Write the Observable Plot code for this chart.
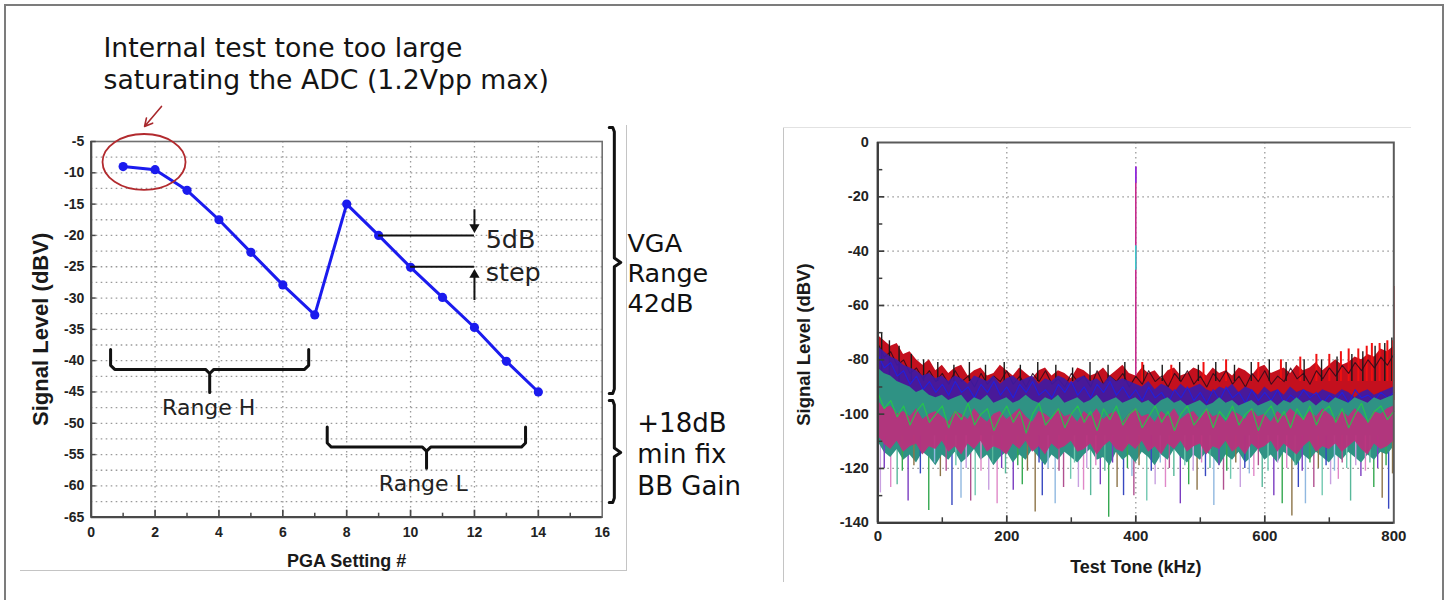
<!DOCTYPE html>
<html>
<head>
<meta charset="utf-8">
<script src="https://cdn.jsdelivr.net/npm/d3@7"></script>
<script src="https://cdn.jsdelivr.net/npm/@observablehq/plot@0.6"></script>
<style>
  body { margin: 0; background: #fff; }
  #wrap { position: relative; width: 1450px; height: 600px; overflow: hidden; background: #fff; }
  #wrap svg { position: absolute; top: 0; overflow: visible; background: transparent; }
  .ln { position: absolute; background: #c4c4c4; }
  #title { position: absolute; left: 103.5px; top: 32px; font-family: "DejaVu Sans", Verdana, sans-serif;
           font-size: 26.7px; line-height: 32px; color: #141414; white-space: nowrap; }
</style>
</head>
<body>
<div id="wrap">
  <div style="position:absolute;left:4px;top:4px;width:1440px;height:640px;border:2px solid #7c7c7c;box-sizing:border-box"></div>
  <div class="ln" style="left:20px;top:570px;width:607px;height:1px"></div>
  <div class="ln" style="left:626px;top:125px;width:1px;height:446px"></div>
  <div class="ln" style="left:783px;top:127px;width:1px;height:455px"></div>
  <div class="ln" style="left:783px;top:127px;width:628px;height:1px;background:#e2e2e2"></div>
  <div id="title">Internal test tone too large<br>saturating the ADC (1.2Vpp max)</div>
</div>
<script>
// ---------------- LEFT CHART DATA ----------------
const pgaSetting  = [1, 2, 3, 4, 5, 6, 7, 8, 9, 10, 11, 12, 13, 14];
const signalLevel = [-9, -9.5, -12.8, -17.5, -22.7, -27.9, -32.7, -15, -20, -25.1, -29.9, -34.7, -40.1, -45];
const pgaTicks    = [0, 2, 4, 6, 8, 10, 12, 14, 16];
const pgaGrid     = [2, 4, 6, 8, 10, 12, 14];
const pgaMinor    = [1, 3, 5, 7, 9, 11, 13, 15];
const levelTicks  = [-5, -10, -15, -20, -25, -30, -35, -40, -45, -50, -55, -60, -65];
const levelGrid   = [-7.5, -10, -12.5, -15, -17.5, -20, -22.5, -25, -27.5, -30, -32.5, -35, -37.5, -40,
                     -42.5, -45, -47.5, -50, -52.5, -55, -57.5, -60, -62.5];

// ---------------- RIGHT CHART DATA ----------------
const toneTicks   = [0, 200, 400, 600, 800];
const toneGrid    = [200, 400, 600];
const toneMinor   = [100, 300, 500, 700];
const dbvTicks    = [0, -20, -40, -60, -80, -100, -120, -140];
const dbvGrid     = [-20, -40, -60, -80, -100, -120];
const dbvMinor    = [-10, -30, -50, -70, -90, -110, -130];

const noiseFreq = [0,10,20,30,40,50,60,70,80,90,100,110,120,130,140,150,160,170,180,190,200,210,220,230,240,250,
  260,270,280,290,300,310,320,330,340,350,360,370,380,390,400,410,420,430,440,450,460,470,480,490,500,510,520,530,
  540,550,560,570,580,590,600,610,620,630,640,650,660,670,680,690,700,710,720,730,740,750,760,770,780,790,800];
const redTop = [-71,-73,-75,-74,-78,-77,-80,-82,-80,-84, -82,-85,-83,-82,-86,-84,-83,-86,-85,-82,
  -84,-86,-83,-85,-87,-84,-83,-86,-84,-85, -87,-83,-84,-86,-85,-83,-86,-84,-82,-85,
  -86,-83,-85,-84,-87,-84,-83,-86,-85,-83, -84,-86,-83,-85,-84,-86,-83,-84,-86,-83,
  -82,-85,-84,-83,-85,-82,-84,-83,-81,-84, -82,-80,-82,-81,-79,-80,-78,-79,-76,-77, -75];
const darkTrace = [-74,-79,-77,-82,-80,-85,-83,-87,-84,-88, -85,-89,-84,-88,-86,-90,-85,-89,-86,-88,
  -84,-89,-86,-90,-85,-88,-84,-89,-87,-90, -85,-88,-86,-90,-84,-89,-86,-88,-85,-90,
  -86,-89,-84,-88,-86,-90,-85,-88,-84,-89, -86,-90,-85,-88,-84,-89,-86,-90,-85,-88,
  -84,-89,-86,-88,-83,-87,-85,-89,-84,-87, -83,-86,-82,-85,-81,-84,-80,-83,-79,-82, -78];
const blueTop = [-75,-77,-79,-80,-82,-83,-84,-86,-85,-87, -86,-88,-86,-87,-89,-86,-87,-88,-86,-89,
  -87,-86,-88,-87,-86,-89,-87,-88,-86,-87, -89,-87,-86,-88,-87,-89,-86,-88,-87,-88,
  -89,-90,-88,-91,-89,-90,-92,-89,-91,-90, -89,-91,-92,-90,-91,-89,-92,-90,-91,-93,
  -90,-92,-91,-93,-90,-92,-91,-92,-93,-91, -92,-93,-91,-92,-94,-92,-91,-93,-92,-91, -90];
const blueTrace = [-78,-83,-81,-86,-84,-89,-86,-91,-88,-92, -89,-93,-88,-92,-90,-94,-89,-92,-88,-93,
  -90,-94,-89,-92,-88,-93,-91,-94,-89,-92, -88,-93,-90,-94,-89,-92,-88,-93,-90,-94,
  -91,-95,-90,-94,-92,-96,-91,-94,-90,-95, -92,-96,-91,-95,-90,-94,-92,-96,-91,-95,
  -92,-95,-91,-96,-93,-95,-91,-94,-92,-96, -93,-95,-92,-96,-91,-94,-93,-95,-92,-94, -92];
const tealTop = [-83,-85,-86,-88,-89,-90,-92,-91,-93,-94, -93,-95,-94,-93,-96,-94,-95,-93,-96,-95,
  -94,-96,-95,-93,-95,-96,-94,-95,-93,-96, -95,-94,-96,-95,-93,-96,-95,-94,-96,-95,
  -94,-96,-95,-97,-95,-94,-96,-95,-97,-96, -95,-97,-96,-94,-96,-95,-97,-96,-95,-97,
  -96,-95,-97,-95,-96,-94,-96,-95,-97,-95, -96,-94,-95,-96,-94,-95,-96,-94,-95,-94, -93];
const greenTrace = [-92,-98,-95,-101,-97,-104,-99,-96,-103,-100, -97,-105,-99,-102,-96,-104,-100,-98,-106,-101,
  -97,-103,-99,-107,-100,-96,-104,-101,-98,-105, -100,-97,-103,-99,-106,-98,-102,-97,-104,-100,
  -98,-105,-101,-97,-103,-99,-106,-100,-97,-104, -101,-98,-105,-99,-102,-97,-104,-100,-98,-106,
  -100,-97,-103,-99,-105,-98,-102,-97,-104,-99, -97,-103,-98,-105,-100,-96,-103,-99,-97,-102, -99];
const bandBottom = [-110,-114,-116,-113,-117,-115,-118,-114,-116,-119, -115,-117,-114,-118,-116,-113,-117,-115,-119,-116,
  -114,-118,-115,-117,-113,-116,-119,-115,-117,-114, -116,-118,-115,-113,-117,-116,-119,-114,-117,-115,
  -118,-114,-116,-119,-115,-117,-113,-116,-118,-115, -117,-114,-116,-119,-115,-117,-114,-118,-116,-113,
  -117,-115,-118,-114,-116,-119,-115,-117,-114,-116, -118,-115,-117,-114,-116,-118,-115,-117,-114,-115, -112];
const magentaTop = [-95,-98,-97,-100,-99,-101,-98,-102,-100,-99, -101,-103,-99,-100,-102,-98,-101,-103,-100,-99,
  -102,-100,-98,-101,-103,-99,-100,-102,-98,-101, -100,-103,-99,-101,-98,-102,-100,-99,-103,-100,
  -98,-101,-100,-103,-99,-101,-98,-102,-100,-99, -102,-98,-101,-100,-103,-99,-100,-102,-98,-101,
  -100,-103,-99,-101,-98,-100,-102,-99,-101,-98, -100,-102,-99,-101,-98,-100,-103,-99,-100,-98, -97];
const magentaBottom = [-108,-111,-113,-110,-114,-112,-111,-115,-112,-113, -110,-114,-112,-115,-111,-113,-110,-114,-112,-113,
  -115,-111,-113,-110,-114,-112,-115,-111,-113,-112, -110,-114,-113,-111,-115,-112,-110,-113,-114,-111,
  -113,-110,-114,-112,-115,-111,-113,-110,-114,-112, -111,-115,-112,-113,-110,-114,-112,-115,-111,-113,
  -112,-110,-114,-111,-113,-115,-112,-110,-114,-112, -113,-111,-114,-112,-110,-113,-115,-111,-113,-112, -110];

const deepSpikeFreq  = [4,20,30,47,79,97,115,129,144,151,172,185,198,210,224,244,255,275,288,299,311,319,330,345,358,371,
  381,394,397,417,430,446,459,469,482,495,508,521,536,547,562,583,596,614,627,642,652,663,676,689,702,714,733,749,769,782,792];
const deepSpikeLevel = [-129,-127,-126,-132,-135.5,-123,-133.6,-131,-132,-130,-128,-133,-122,-128,-126,-136,-130,-133,-127,
  -124,-127,-128,-130,-126,-138,-127,-130,-123,-130,-132,-126,-127,-123,-133,-126,-128,-123,-133.6,-128,-124,-127,-123,
  -127,-130,-133,-137.5,-127,-133,-127,-130,-126,-124,-132,-123,-127,-131,-135];
const shallowSpikeFreq  = [10,38,56,66,88,106,121,137,160,178,192,217,232,250,264,281,305,324,338,352,364,387,405,424,438,
  452,476,489,502,515,529,541,555,569,576,590,605,620,634,647,658,670,683,695,708,720,727,741,756,763,775,788,798];
const shallowSpikeLevel = [-120,-121,-119,-122,-118,-121,-119,-120,-121,-118,-120,-119,-121,-118,-120,-121,-118,-120,-119,
  -121,-118,-120,-119,-121,-118,-120,-119,-121,-118,-120,-119,-121,-118,-120,-122,-119,-121,-118,-120,-119,-121,-118,
  -120,-119,-121,-118,-120,-119,-121,-118,-120,-119,-122];
const topSpikeFreq  = [6,18,33,52,71,93,118,142,167,196,221,248,276,302,329,357,383,412,441,468,497,524,553,579,607,633,
  661,688,712,735,752,771,786,797];
const topSpikeLevel = [-70,-73,-75,-78,-80,-81,-82,-81,-82,-81,-82,-81,-82,-83,-81,-82,-81,-82,-82,-81,-82,-81,-82,-81,
  -80,-81,-80,-80,-79,-78,-77,-75,-74,-72];
const redSpikeFreq  = [410,455,505,540,590,625,655,680,700,718,730,745,758,766,778,790,799];
const redSpikeLevel = [-81,-82,-81,-80,-81,-80,-79,-78,-78,-77,-76,-76,-75,-74,-74,-73,-73];

const toneFreq = 400, toneLevel = -9, edgeFreq = 800, edgeLevel = -53;

// ---------------- STYLE ----------------
const tickFont = "'Liberation Sans', Arial, sans-serif";
const noteFont = "'DejaVu Sans', Verdana, sans-serif";
const gridStyle = {stroke: "#9a9a9a", strokeOpacity: 1, strokeWidth: 1.3, strokeDasharray: "1.6,3.4"};
const spikePalette = ["#c8a0e0", "#e088c8", "#58b89a", "#7a3cc0", "#34a850", "#8c7448", "#3848c0", "#90b8e0", "#b05090", "#70c8b0"];

// ---------------- helpers ----------------
function ellipseMark(cx, cy, rx, ry, style) {
  return (index, scales, values, dimensions, context) => {
    const el = context.document.createElementNS("http://www.w3.org/2000/svg", "ellipse");
    const x0 = scales.x(cx), y0 = scales.y(cy);
    el.setAttribute("cx", x0);
    el.setAttribute("cy", y0);
    el.setAttribute("rx", Math.abs(scales.x(cx + rx) - x0));
    el.setAttribute("ry", Math.abs(scales.y(cy + ry) - y0));
    el.setAttribute("fill", "none");
    el.setAttribute("stroke", style.stroke);
    el.setAttribute("stroke-width", style.strokeWidth);
    return el;
  };
}
function hBrace(x0, x1, xm, yEnd, yBar, yTip) {
  const dx = 0.13, d = 0.65;
  return [[x0, yEnd], [x0, yBar + d], [x0 + dx, yBar], [xm - dx, yBar], [xm, yBar - d], [xm, yTip],
          [xm, yBar - d], [xm + dx, yBar], [x1 - dx, yBar], [x1, yBar + d], [x1, yEnd]];
}
function vBrace(xv, xh, xt, yT, yM, yB) {
  const d = 0.7;
  return [[xh, yT], [xv - 0.05, yT], [xv, yT - d], [xv, yM + d], [xt, yM], [xv, yM - d], [xv, yB + d], [xv - 0.05, yB], [xh, yB]];
}

// ---------------- LEFT PLOT ----------------
const L = {w: 740, h: 600, ml: 90.7, mt: 141, mr: 138.3, mb: 83.3};
const lpW = L.w - L.ml - L.mr, lpH = L.h - L.mt - L.mb;
const pts = pgaSetting.map((x, i) => ({x, y: signalLevel[i]}));
const lineBlue = "#1b1bee";

const left = Plot.plot({
  width: L.w, height: L.h, marginLeft: L.ml, marginTop: L.mt, marginRight: L.mr, marginBottom: L.mb,
  x: {domain: [0, 16], label: null}, y: {domain: [-65, -5], label: null},
  marks: [
    Plot.gridY({ticks: levelGrid, ...gridStyle}),
    Plot.gridX({ticks: pgaGrid, ...gridStyle}),
    Plot.frame({stroke: "#707070", strokeWidth: 1.6}),
    Plot.ruleX([0], {stroke: "#4a4a4a", strokeWidth: 2.2}),
    Plot.ruleY([-65], {stroke: "#4a4a4a", strokeWidth: 2.2}),
    Plot.ruleX(pgaGrid, {x: d => d, insetTop: lpH - 7, stroke: "#4a4a4a", strokeWidth: 1.7}),
    Plot.ruleX(pgaMinor, {x: d => d, insetTop: lpH - 4, stroke: "#4a4a4a", strokeWidth: 1.5}),
    Plot.ruleY(levelTicks, {y: d => d, insetRight: lpW - 5, stroke: "#4a4a4a", strokeWidth: 1.5}),
    Plot.axisX({ticks: pgaTicks, tickSize: 0, tickPadding: 10, tickFormat: d => String(d), fontSize: 14,
                fontWeight: "bold", fontFamily: tickFont, fill: "#222", label: null}),
    Plot.axisY({ticks: levelTicks, tickSize: 0, tickPadding: 7, tickFormat: d => String(d), fontSize: 14,
                fontWeight: "bold", fontFamily: tickFont, fill: "#222", label: null}),
    Plot.text(["PGA Setting #"], {frameAnchor: "bottom", lineAnchor: "middle", dy: 44.5, fontSize: 18,
                fontWeight: "bold", fontFamily: tickFont, fill: "#1a1a1a"}),
    Plot.text(["Signal Level (dBV)"], {frameAnchor: "left", textAnchor: "middle", lineAnchor: "middle", dx: -50.7,
                rotate: -90, fontSize: 22, fontWeight: "bold", fontFamily: tickFont, fill: "#1a1a1a"}),
    // data
    Plot.line(pts, {x: "x", y: "y", stroke: lineBlue, strokeWidth: 3}),
    Plot.dot(pts, {x: "x", y: "y", r: 4.6, fill: lineBlue, stroke: "none"}),
    // annotations
    ellipseMark(1.67, -8.35, 1.30, 4.47, {stroke: "#b22a2e", strokeWidth: 1.8}),
    Plot.arrow([{x1: 2.2, y1: 0.6, x2: 1.67, y2: -2.6}], {x1: "x1", y1: "y1", x2: "x2", y2: "y2",
                stroke: "#a8282c", strokeWidth: 1.6, headLength: 13, headAngle: 55}),
    Plot.line(hBrace(0.607, 6.81, 3.71, -38.2, -41.4, -45.1), {x: d => d[0], y: d => d[1], stroke: "#111",
                strokeWidth: 3, strokeLinejoin: "round"}),
    Plot.line(hBrace(7.39, 13.6, 10.5, -50.6, -53.8, -57.2), {x: d => d[0], y: d => d[1], stroke: "#111",
                strokeWidth: 3, strokeLinejoin: "round"}),
    Plot.line(vBrace(16.38, 16.22, 16.58, -2.76, -24.32, -45.24), {x: d => d[0], y: d => d[1], stroke: "#111",
                strokeWidth: 3, strokeLinejoin: "round"}),
    Plot.line(vBrace(16.38, 16.22, 16.58, -46.36, -54.66, -62.65), {x: d => d[0], y: d => d[1], stroke: "#111",
                strokeWidth: 3, strokeLinejoin: "round"}),
    Plot.ruleY([-20], {x1: 9, x2: 12, stroke: "#111", strokeWidth: 2}),
    Plot.ruleY([-25], {x1: 10, x2: 12, stroke: "#111", strokeWidth: 2}),
    Plot.ruleX([12], {y1: -15.9, y2: -18.7, stroke: "#111", strokeWidth: 2}),
    Plot.ruleX([12], {y1: -30.4, y2: -26.3, stroke: "#111", strokeWidth: 2}),
    Plot.dot([{x: 12, y: -18.67}], {x: "x", y: "y", symbol: "triangle", r: 3.8, fill: "#111", rotate: 180}),
    Plot.dot([{x: 12, y: -26.3}], {x: "x", y: "y", symbol: "triangle", r: 3.8, fill: "#111"}),
    Plot.text(["5dB\nstep"], {x: () => 12.35, y: () => -23.0, textAnchor: "start", lineAnchor: "middle",
                lineHeight: 1.28, fontSize: 25.5, fontFamily: noteFont, fill: "#222"}),
    Plot.text(["Range H"], {x: () => 3.68, y: () => -47.6, lineAnchor: "middle", fontSize: 22,
                fontFamily: noteFont, fill: "#222"}),
    Plot.text(["Range L"], {x: () => 10.40, y: () => -59.7, lineAnchor: "middle", fontSize: 22,
                fontFamily: noteFont, fill: "#222"}),
    Plot.text(["VGA\nRange\n42dB"], {x: () => 16.79, y: () => -25.9, textAnchor: "start", lineAnchor: "middle",
                lineHeight: 1.18, fontSize: 25.5, fontFamily: noteFont, fill: "#111"}),
    Plot.text(["+18dB\nmin fix\nBB Gain"], {x: () => 17.10, y: () => -54.8, textAnchor: "start", lineAnchor: "middle",
                lineHeight: 1.2, fontSize: 26, fontFamily: noteFont, fill: "#111"})
  ]
});
left.style.left = "0px";
document.getElementById("wrap").appendChild(left);

// ---------------- RIGHT PLOT ----------------
const R = {w: 710, h: 600, ml: 137.3, mt: 142, mr: 56.7, mb: 77.7};
const rpW = R.w - R.ml - R.mr, rpH = R.h - R.mt - R.mb;
const floorLevel = -100;
const rows = noiseFreq.map((f, i) => ({
  f, red: redTop[i], dark: darkTrace[i], blue: blueTop[i], blueT: blueTrace[i], teal: tealTop[i],
  green: greenTrace[i], bottom: bandBottom[i], magTop: magentaTop[i], magBottom: magentaBottom[i]
}));
const deepRows = deepSpikeFreq.map((f, i) => ({f, v: deepSpikeLevel[i]}));
const shallowRows = shallowSpikeFreq.map((f, i) => ({f, v: shallowSpikeLevel[i]}));
const topRows = topSpikeFreq.map((f, i) => ({f, v: topSpikeLevel[i]}));
const redSpRows = redSpikeFreq.map((f, i) => ({f, v: redSpikeLevel[i]}));

const right = Plot.plot({
  width: R.w, height: R.h, marginLeft: R.ml, marginTop: R.mt, marginRight: R.mr, marginBottom: R.mb,
  x: {domain: [0, 800], label: null}, y: {domain: [-140, 0], label: null},
  marks: [
    Plot.gridY({ticks: dbvGrid, ...gridStyle}),
    Plot.gridX({ticks: toneGrid, ...gridStyle}),
    // noise floor traces (bands)
    Plot.ruleX(deepRows, {x: "f", y1: -110, y2: "v", stroke: (d, i) => spikePalette[i % spikePalette.length], strokeWidth: 1.4}),
    Plot.areaY(rows, {x: "f", y1: floorLevel, y2: "red", fill: "#c4101e"}),
    Plot.ruleX(topRows, {x: "f", y1: -88, y2: "v", stroke: "#1a1a1a", strokeWidth: 1.4}),
    Plot.ruleX(redSpRows, {x: "f", y1: -88, y2: "v", stroke: "#f01010", strokeWidth: 2}),
    Plot.line(rows, {x: "f", y: "dark", stroke: "#2a0a1a", strokeWidth: 1.1, strokeOpacity: 0.85}),
    Plot.areaY(rows, {x: "f", y1: floorLevel, y2: "blue", fill: "#3e1aa4", fillOpacity: 0.92}),
    Plot.line(rows, {x: "f", y: "blueT", stroke: "#2020e0", strokeWidth: 1.2, strokeOpacity: 0.9}),
    Plot.areaY(rows, {x: "f", y1: "bottom", y2: "teal", fill: "#2f9284"}),
    Plot.ruleX(shallowRows, {x: "f", y1: -108, y2: "v", stroke: (d, i) => spikePalette[(i + 3) % spikePalette.length], strokeWidth: 1.4}),
    Plot.areaY(rows, {x: "f", y1: "magBottom", y2: "magTop", fill: "#b8327c", fillOpacity: 0.95}),
    Plot.line(rows, {x: "f", y: "green", stroke: "#25c84a", strokeWidth: 1.2, strokeOpacity: 0.9}),
    // test tone
    Plot.ruleX([toneFreq], {y1: -86, y2: toneLevel, stroke: "#c42a8c", strokeWidth: 1.6}),
    Plot.ruleX([toneFreq], {y1: -15, y2: toneLevel, stroke: "#8a2be2", strokeWidth: 1.6}),
    Plot.ruleX([toneFreq], {y1: -47, y2: -38, stroke: "#3cc8c8", strokeWidth: 1.6}),
    Plot.ruleX([edgeFreq], {y1: -95, y2: edgeLevel, stroke: "#e01010", strokeWidth: 1.6}),
    // frame & ticks
    Plot.frame({stroke: "#5a5a5a", strokeWidth: 2}),
    Plot.ruleX([0], {stroke: "#3c3c3c", strokeWidth: 2.2}),
    Plot.ruleY([-140], {stroke: "#3c3c3c", strokeWidth: 2.2}),
    Plot.ruleX(toneGrid, {x: d => d, insetTop: rpH - 7, stroke: "#3c3c3c", strokeWidth: 1.7}),
    Plot.ruleX(toneMinor, {x: d => d, insetTop: rpH - 5, stroke: "#3c3c3c", strokeWidth: 1.5}),
    Plot.ruleY(dbvGrid, {y: d => d, insetRight: rpW - 7, stroke: "#3c3c3c", strokeWidth: 1.7}),
    Plot.ruleY(dbvMinor, {y: d => d, insetRight: rpW - 5, stroke: "#3c3c3c", strokeWidth: 1.5}),
    Plot.axisX({ticks: toneTicks, tickSize: 0, tickPadding: 8, tickFormat: d => String(d), fontSize: 15,
                fontWeight: "bold", fontFamily: tickFont, fill: "#222", label: null}),
    Plot.axisY({ticks: dbvTicks, tickSize: 0, tickPadding: 9, tickFormat: d => String(d), fontSize: 14.5,
                fontWeight: "bold", fontFamily: tickFont, fill: "#222", label: null}),
    Plot.text(["Test Tone (kHz)"], {frameAnchor: "bottom", lineAnchor: "middle", dy: 44.4, fontSize: 18,
                fontWeight: "bold", fontFamily: tickFont, fill: "#1a1a1a"}),
    Plot.text(["Signal Level (dBV)"], {frameAnchor: "left", textAnchor: "middle", lineAnchor: "middle", dx: -73.3, dy: 12,
                rotate: -90, fontSize: 18.5, fontWeight: "bold", fontFamily: tickFont, fill: "#1a1a1a"})
  ]
});
right.style.left = "740px";
document.getElementById("wrap").appendChild(right);
</script>
</body>
</html>
